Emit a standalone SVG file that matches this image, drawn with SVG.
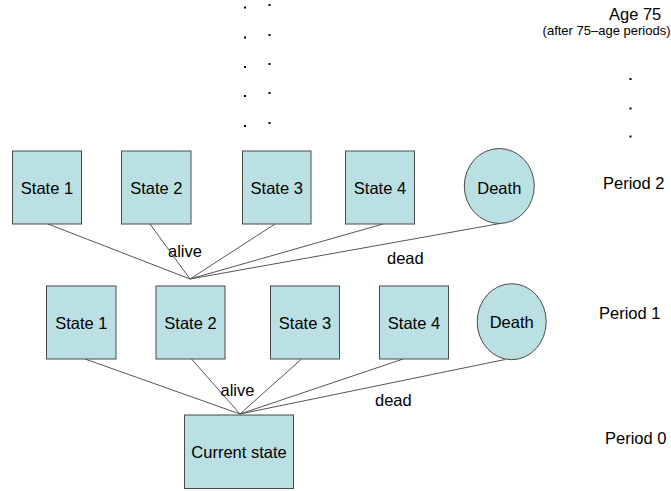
<svg xmlns="http://www.w3.org/2000/svg" width="671" height="491" viewBox="0 0 671 491">
<style>
.box{fill:#BBE0E3;stroke:#4a4a4a;stroke-width:1}
.t{font-family:"Liberation Sans",Arial,sans-serif;font-size:16.5px;fill:#000}
.s{font-size:13px}
.c{text-anchor:middle}
.ln{stroke:#555;stroke-width:1;fill:none}
.dot{fill:#000}
</style>
<rect width="671" height="491" fill="#fff"/>
<g id="dots">
<rect class="dot" x="244" y="6.5" width="2" height="2"/>
<rect class="dot" x="244" y="36.5" width="2" height="2"/>
<rect class="dot" x="244" y="66" width="2" height="2"/>
<rect class="dot" x="244" y="95" width="2" height="2"/>
<rect class="dot" x="244" y="125" width="2" height="2"/>
<rect class="dot" x="268.5" y="4" width="2" height="2"/>
<rect class="dot" x="268.5" y="34" width="2" height="2"/>
<rect class="dot" x="268.5" y="63" width="2" height="2"/>
<rect class="dot" x="268.5" y="92" width="2" height="2"/>
<rect class="dot" x="268.5" y="122" width="2" height="2"/>
<rect class="dot" x="629.5" y="78" width="2" height="2"/>
<rect class="dot" x="629.5" y="107.5" width="2" height="2"/>
<rect class="dot" x="629.5" y="135.5" width="2" height="2"/>
</g>
<g id="labels">
<text class="t" x="609" y="20">Age 75</text>
<text class="t s" x="670.5" y="35" text-anchor="end">(after 75–age periods)</text>
<text class="t" x="603" y="189">Period 2</text>
<text class="t" x="599" y="319">Period 1</text>
<text class="t" x="605" y="444">Period 0</text>
</g>
<g id="connectors">
<line class="ln" x1="48" y1="224" x2="190" y2="279"/>
<line class="ln" x1="150" y1="224" x2="190" y2="279"/>
<line class="ln" x1="275" y1="224" x2="190" y2="279"/>
<line class="ln" x1="383" y1="224" x2="190" y2="279"/>
<line class="ln" x1="500" y1="223.5" x2="190" y2="279"/>
<line class="ln" x1="85" y1="359" x2="240" y2="414"/>
<line class="ln" x1="191.5" y1="359" x2="240" y2="414"/>
<line class="ln" x1="301.5" y1="359" x2="240" y2="414"/>
<line class="ln" x1="403" y1="359" x2="240" y2="414"/>
<line class="ln" x1="505" y1="359.5" x2="240" y2="414"/>
<text class="t" x="168" y="257">alive</text>
<text class="t" x="387" y="264">dead</text>
<text class="t" x="220.5" y="396">alive</text>
<text class="t" x="375" y="406">dead</text>
</g>
<g id="p2-state1"><rect class="box" x="12.5" y="151" width="69" height="73"/><text class="t c" x="47" y="194">State 1</text></g>
<g id="p2-state2"><rect class="box" x="121.5" y="151" width="69.5" height="73"/><text class="t c" x="156.3" y="194">State 2</text></g>
<g id="p2-state3"><rect class="box" x="242.5" y="151" width="68.5" height="73"/><text class="t c" x="276.7" y="194">State 3</text></g>
<g id="p2-state4"><rect class="box" x="345.5" y="151" width="69" height="73"/><text class="t c" x="380" y="194">State 4</text></g>
<g id="p2-death"><ellipse class="box" cx="499.3" cy="186" rx="35" ry="37.5"/><text class="t c" x="499.3" y="194">Death</text></g>
<g id="p1-state1"><rect class="box" x="46.5" y="286" width="69.5" height="73"/><text class="t c" x="81.3" y="328.6">State 1</text></g>
<g id="p1-state2"><rect class="box" x="156" y="286" width="69" height="73"/><text class="t c" x="190.5" y="328.6">State 2</text></g>
<g id="p1-state3"><rect class="box" x="270.5" y="286" width="69" height="73"/><text class="t c" x="305" y="328.6">State 3</text></g>
<g id="p1-state4"><rect class="box" x="379.5" y="286" width="69" height="73"/><text class="t c" x="414" y="328.6">State 4</text></g>
<g id="p1-death"><ellipse class="box" cx="511.7" cy="321.7" rx="34.5" ry="38"/><text class="t c" x="511.7" y="328">Death</text></g>
<g id="current"><rect class="box" x="184.5" y="415" width="109" height="73.5"/><text class="t c" x="239" y="457.5">Current state</text></g>
</svg>
